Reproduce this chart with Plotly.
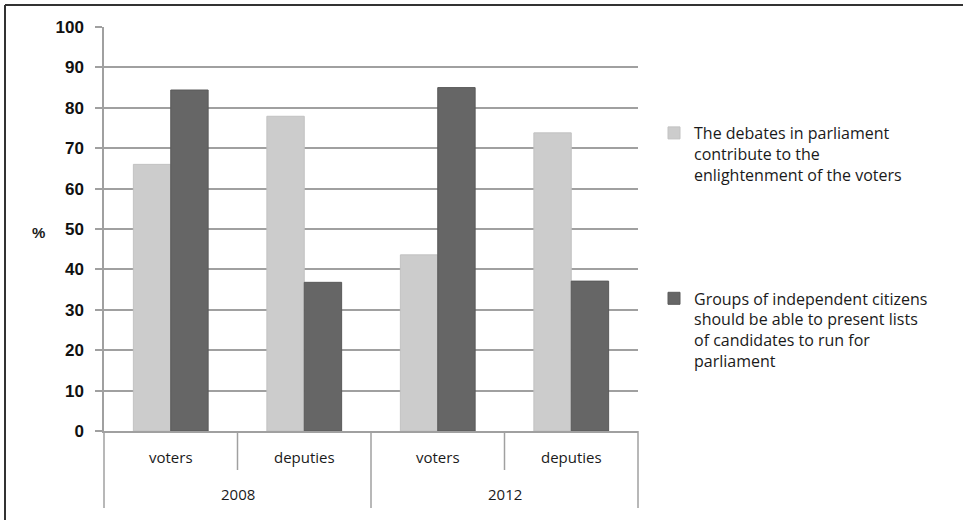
import plotly.graph_objects as go

# ---- data ----
years = ["2008", "2008", "2012", "2012"]
groups = ["voters", "deputies", "voters", "deputies"]
year_labels = ["2008", "2012"]
series_names = [
    "The debates in parliament<br>contribute to the<br>enlightenment of the voters",
    "Groups of independent citizens<br>should be able to present lists<br>of candidates to run for<br>parliament",
]
debates_vals = [66.0, 77.9, 43.6, 73.8]
citizens_vals = [84.4, 36.8, 85.0, 37.1]
y_tick_vals = list(range(0, 101, 10))
y_axis_label = "%"

# ---- layout geometry (pixels) ----
W, H = 963, 523
L, R, T, B = 104, 638, 27, 431
pw, ph = R - L, B - T


def px_x(p):
    return (p - L) / pw


def px_y(p):
    return (B - p) / ph


GRID = "#a0a0a0"
TXT = "#1a1a1a"

fig = go.Figure()
fig.add_bar(
    x=[years, groups], y=debates_vals, name=series_names[0],
    marker=dict(color="#cccccc", line=dict(color="#c2c2c2", width=1)),
    legendgroup="g1",
)
fig.add_bar(
    x=[years, groups], y=citizens_vals, name=series_names[1],
    marker=dict(color="#666666", line=dict(color="#5a5a5a", width=1)),
    legendgroup="g2",
)

fig.update_layout(
    width=W, height=H,
    margin=dict(l=L, r=W - R, t=T, b=H - B, pad=0),
    paper_bgcolor="white", plot_bgcolor="white",
    barmode="group", bargap=0.44, bargroupgap=0,
    font=dict(family="Liberation Sans, Arial, sans-serif", color=TXT),
    legend=dict(
        x=px_x(654), y=px_y(116), xanchor="left", yanchor="top",
        font=dict(family="Open Sans, sans-serif", size=16, color=TXT),
        tracegroupgap=100, valign="top", bgcolor="rgba(0,0,0,0)",
    ),
    showlegend=True,
)

fig.update_yaxes(
    range=[0, 100], tickvals=y_tick_vals, showgrid=True, gridcolor=GRID, gridwidth=1.5,
    zeroline=False, showline=True, linecolor=GRID, linewidth=1.5,
    ticks="outside", ticklen=7, tickcolor=GRID, tickwidth=1.5, ticklabelstandoff=8,
    tickfont=dict(family="Liberation Sans, Arial", size=17, color="#111111", weight="bold"),
    fixedrange=True,
)
fig.update_xaxes(
    type="multicategory", showgrid=False, showline=True, linecolor=GRID, linewidth=1.5,
    ticks="", showticklabels=False, showdividers=False,
    fixedrange=True,
)

# category labels (inner level) and year labels (outer level)
n = len(groups)
for i, g in enumerate(groups):
    fig.add_annotation(
        text=g, x=(i + 0.5) / n, y=px_y(457), xref="paper", yref="paper",
        xanchor="center", yanchor="middle", showarrow=False,
        font=dict(family="Open Sans, sans-serif", size=15, color=TXT),
    )
m = len(year_labels)
for j, yl in enumerate(year_labels):
    fig.add_annotation(
        text=yl, x=(j + 0.5) / m, y=px_y(494), xref="paper", yref="paper",
        xanchor="center", yanchor="middle", showarrow=False,
        font=dict(family="Open Sans, sans-serif", size=15, color=TXT),
    )
# separators between categories: short between inner, long at year boundaries
for k in range(n + 1):
    outer = (k % (n // m) == 0)
    fig.add_shape(type="line", xref="paper", yref="paper",
                  x0=k / n, x1=k / n, y0=0, y1=px_y(508 if outer else 470),
                  line=dict(color=GRID, width=1.5))

fig.add_annotation(
    text=y_axis_label, x=px_x(38.5), y=px_y(232), xref="paper", yref="paper",
    xanchor="center", yanchor="middle",
    showarrow=False, font=dict(family="Liberation Sans, Arial", size=15, color=TXT, weight="bold"),
)

# outer frame (top and left edges visible)
fig.add_shape(type="line", xref="paper", yref="paper",
              x0=px_x(5), x1=px_x(W + 2), y0=px_y(5), y1=px_y(5),
              line=dict(color="#333333", width=2))
fig.add_shape(type="line", xref="paper", yref="paper",
              x0=px_x(5), x1=px_x(5), y0=px_y(5), y1=px_y(520),
              line=dict(color="#333333", width=2))

fig.write_html("out.html", config={"displayModeBar": False})
